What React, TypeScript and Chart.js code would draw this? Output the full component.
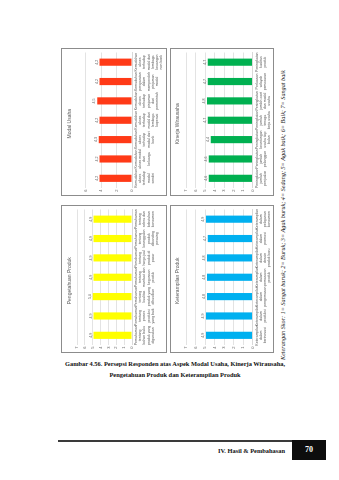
import React, { useEffect, useRef } from "react";
import { Chart, registerables } from "chart.js";

Chart.register(...registerables);

// ---------- data ----------
const valueMin = 0;
const valueMax = 7;
const valueStep = 1;

const modalTitle = "Modal Usaha";
const modalCategories = [
  "Kemudahan akses terhadap modal sendiri",
  "Kemudahan akses modal dari keluarga",
  "Kemudahan akses terhadap modal dari bank",
  "Kemudahan akses terhadap modal dari lembaga koperasi",
  "Kemudahan akses terhadap pinjaman dari pemerintah",
  "Kemudahan persyaratan dalam memperoleh pinjaman modal",
  "Kemudahan akses terhadap modal dari lembaga keuangan non bank",
];
const modalValues = [4.2, 4.2, 4.3, 4.2, 4.5, 4.2, 4.2];

const kinerjaTitle = "Kinerja Wirausaha";
const kinerjaCategories = [
  "Peningkatan jumlah penjualan",
  "Peningkatan jumlah pelanggan",
  "Peningkatan keuntungan usaha tiap bulan",
  "Peningkatan jumlah tenaga kerja usaha",
  "Peningkatan jumlah aset dan modal usaha",
  "Perluasan wilayah pemasaran",
  "Peningkatan kualitas produk",
];
const kinerjaValues = [4.6, 4.6, 4.4, 4.7, 4.8, 4.7, 4.7];

const pengetahuanTitle = "Pengetahuan Produk";
const pengetahuanCategories = [
  "Pemahaman tentang bahan baku produk yang digunakan",
  "Pemahaman tentang proses produksi yang baik",
  "Pemahaman tentang kualitas produk yang dihasilkan",
  "Pemahaman tentang manfaat dan kegunaan produk",
  "Pemahaman tentang harga jual produk di pasar",
  "Pemahaman tentang keunggulan produk dibanding pesaing",
  "Pemahaman tentang selera dan kebutuhan konsumen",
];
const pengetahuanValues = [4.9, 4.9, 5.0, 4.9, 4.9, 4.9, 4.9];

const keterampilanTitle = "Keterampilan Produk";
const keterampilanCategories = [
  "Keterampilan dalam berinovasi",
  "Keterampilan dalam produksi",
  "Keterampilan dalam pengemasan",
  "Keterampilan dalam pemasaran produk",
  "Keterampilan dalam desain produk baru",
  "Keterampilan dalam promosi",
  "Keterampilan dalam pelayanan konsumen",
];
const keterampilanValues = [4.9, 4.9, 4.8, 4.8, 4.8, 4.7, 4.9];

const captionLine1 =
  "Gambar 4.56. Persepsi Responden atas Aspek Modal Usaha, Kinerja Wirausaha,";
const captionLine2 = "Pengetahuan Produk dan Keterampilan Produk";
const scoreNote =
  "Keterangan Skor: 1= Sangat buruk; 2= Buruk; 3= Agak buruk; 4= Sedang; 5= Agak baik; 6= Baik; 7= Sangat baik";
const footerText = "IV. Hasil & Pembahasan";
const pageNumber = "70";

// ---------- helpers ----------
const SANS = "'Liberation Sans', Arial, sans-serif";
const SERIF = "'Liberation Serif', 'Times New Roman', serif";

function wrap(s: string, max: number): string[] {
  const words = s.split(" ");
  const lines: string[] = [];
  let cur = "";
  for (const w of words) {
    if (cur && (cur + " " + w).length > max) {
      lines.push(cur);
      cur = w;
    } else {
      cur = cur ? cur + " " + w : w;
    }
  }
  if (cur) lines.push(cur);
  return lines;
}

const fmt = (v: number) => v.toFixed(1).replace(".", ",");

const valueLabels = {
  id: "valueLabels",
  afterDatasetsDraw(chart: any) {
    const ctx = chart.ctx;
    const meta = chart.getDatasetMeta(0);
    const data = chart.data.datasets[0].data as number[];
    ctx.save();
    ctx.font = `3.6px ${SANS}`;
    ctx.fillStyle = "#595959";
    ctx.textAlign = "center";
    ctx.textBaseline = "bottom";
    meta.data.forEach((bar: any, i: number) => {
      ctx.fillText(fmt(data[i]), bar.x, bar.y - 1.2);
    });
    ctx.restore();
  },
};

type Rect = { x: number; y: number; w: number; h: number };

function Panel(props: {
  rect: Rect;
  title: string;
  categories: string[];
  values: number[];
  color: string;
  titleTop: number;
  titleBottom: number;
  axisHeight: number;
}) {
  const { rect, title, categories, values, color, titleTop, titleBottom, axisHeight } = props;
  const ref = useRef<HTMLCanvasElement>(null);
  const cw = rect.h - 2;
  const ch = rect.w - 2;

  useEffect(() => {
    const chart = new Chart(ref.current as HTMLCanvasElement, {
      type: "bar",
      data: {
        labels: categories.map((c) => wrap(c, 11)),
        datasets: [
          {
            data: values,
            backgroundColor: color,
            categoryPercentage: 1,
            barPercentage: 0.37,
          },
        ],
      },
      options: {
        responsive: false,
        animation: false,
        devicePixelRatio: 1,
        events: [],
        layout: { padding: { left: 0, right: 3.5, top: 0, bottom: 0 } },
        plugins: {
          legend: { display: false },
          tooltip: { enabled: false },
          title: {
            display: true,
            text: title,
            color: "#595959",
            font: { size: 5, family: SANS, weight: "normal" },
            padding: { top: titleTop, bottom: titleBottom },
          },
        },
        scales: {
          x: {
            grid: { display: false, drawTicks: false },
            border: { display: true, color: "#d9d9d9" },
            ticks: {
              maxRotation: 0,
              minRotation: 0,
              autoSkip: false,
              color: "#595959",
              padding: 2,
              font: { size: 3.5, family: SANS, lineHeight: 1.2 },
            },
            afterFit: (s: any) => {
              s.height = axisHeight;
            },
          },
          y: {
            min: valueMin,
            max: valueMax,
            grid: { color: "#e3e3e3", drawTicks: false },
            border: { display: false },
            ticks: {
              stepSize: valueStep,
              color: "#595959",
              padding: 1.5,
              font: { size: 4, family: SANS },
              callback: (v: any) => String(v),
            },
            afterFit: (s: any) => {
              s.width = 7;
            },
          },
        },
      } as any,
      plugins: [valueLabels],
    });
    return () => chart.destroy();
  }, []);

  const cx = rect.x + rect.w / 2;
  const cy = rect.y + rect.h / 2;
  return (
    <div
      style={{
        position: "absolute",
        left: cx - rect.h / 2,
        top: cy - rect.w / 2,
        width: rect.h,
        height: rect.w,
        transform: "rotate(-90deg)",
        transformOrigin: "50% 50%",
        border: "1px solid #8c8c8c",
        boxSizing: "border-box",
        background: "#fff",
      }}
    >
      <canvas ref={ref} width={cw} height={ch} style={{ display: "block", width: cw, height: ch }} />
    </div>
  );
}

export default function App() {
  return (
    <div
      style={{
        position: "absolute",
        left: 0,
        top: 0,
        width: 339,
        height: 480,
        background: "#fff",
        overflow: "hidden",
      }}
    >
      <Panel
        rect={{ x: 61, y: 48, w: 106, h: 148 }}
        title={modalTitle}
        categories={modalCategories}
        values={modalValues}
        color="#FF3A17"
        titleTop={5}
        titleBottom={5}
        axisHeight={34}
      />
      <Panel
        rect={{ x: 170, y: 48, w: 104, h: 148 }}
        title={kinerjaTitle}
        categories={kinerjaCategories}
        values={kinerjaValues}
        color="#00B050"
        titleTop={4}
        titleBottom={5}
        axisHeight={20.5}
      />
      <Panel
        rect={{ x: 61, y: 205, w: 106, h: 148 }}
        title={pengetahuanTitle}
        categories={pengetahuanCategories}
        values={pengetahuanValues}
        color="#FFFF00"
        titleTop={5}
        titleBottom={4}
        axisHeight={34}
      />
      <Panel
        rect={{ x: 170, y: 205, w: 104, h: 148 }}
        title={keterampilanTitle}
        categories={keterampilanCategories}
        values={keterampilanValues}
        color="#00B0F0"
        titleTop={4}
        titleBottom={5}
        axisHeight={20.5}
      />

      {/* rotated score note: box centred at (283, 220) */}
      <div
        style={{
          position: "absolute",
          left: 283 - 140,
          top: 220 - 4,
          width: 280,
          height: 8,
          textAlign: "center",
          whiteSpace: "nowrap",
          fontFamily: SERIF,
          fontStyle: "italic",
          fontSize: 6.2,
          lineHeight: "8px",
          color: "#111",
          transform: "rotate(-90deg)",
          transformOrigin: "50% 50%",
        }}
      >
        {scoreNote}
      </div>

      {/* caption */}
      <div
        style={{
          position: "absolute",
          left: 40,
          width: 270,
          top: 358,
          textAlign: "center",
          fontFamily: SERIF,
          fontWeight: "bold",
          fontSize: 6.4,
          lineHeight: "11px",
          color: "#111",
          whiteSpace: "nowrap",
        }}
      >
        <div>{captionLine1}</div>
        <div>{captionLine2}</div>
      </div>

      {/* footer */}
      <div
        style={{
          position: "absolute",
          left: 58,
          top: 440,
          width: 234,
          height: 2,
          background: "#3a3a3a",
        }}
      />
      <div
        style={{
          position: "absolute",
          right: 339 - 285,
          top: 446,
          fontFamily: SERIF,
          fontWeight: "bold",
          fontSize: 6.4,
          lineHeight: "9px",
          color: "#111",
          whiteSpace: "nowrap",
        }}
      >
        {footerText}
      </div>
      <div
        style={{
          position: "absolute",
          left: 292,
          top: 440,
          width: 34,
          height: 20,
          background: "#0d0d0d",
          color: "#fff",
          fontFamily: SERIF,
          fontWeight: "bold",
          fontSize: 8,
          lineHeight: "20px",
          textAlign: "center",
        }}
      >
        {pageNumber}
      </div>
    </div>
  );
}
